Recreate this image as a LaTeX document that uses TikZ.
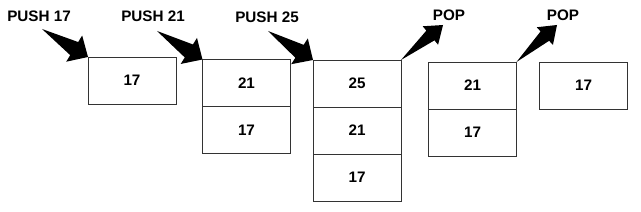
\documentclass[tikz,border=0pt]{standalone}
\usepackage{fontspec}
\setmainfont{Liberation Sans}
\usetikzlibrary{positioning,calc}

% filled tapering arrow: tail, tip, shaft half width, head half width
\newcommand{\fatarrow}[4]{%
  \fill[black] (#1) -- ($(#1)!0.7!(#2)!#3!90:(#2)$) -- ($(#1)!0.7!(#2)!#4!90:(#2)$) -- (#2)
    -- ($(#1)!0.7!(#2)!#4!-90:(#2)$) -- ($(#1)!0.7!(#2)!#3!-90:(#2)$) -- cycle;}

\begin{document}
\begin{tikzpicture}[
      x=0.3mm, y=-0.3mm,
      cell/.style={draw=black!80, line width=0.7pt, minimum width=26.4mm, minimum height=14.1mm,
        inner sep=0pt, outer sep=0pt, font=\bfseries\fontsize{13}{15}\selectfont},
      lbl/.style={font=\bfseries\fontsize{13}{15}\selectfont}
    ]
    \useasboundingbox (0,0) rectangle (641,212);
    % stacks
    \node[cell] (a1) at (132,80.5) {17};
    \node[cell] (b1) at (246.5,83) {21};
    \node[cell, below=0pt of b1] (b2) {17};
    \node[cell] (c1) at (357,83.5) {25};
    \node[cell, below=0pt of c1] (c2) {21};
    \node[cell, below=0pt of c2] (c3) {17};
    \node[cell] (d1) at (472.5,85.5) {21};
    \node[cell, below=0pt of d1] (d2) {17};
    \node[cell] (e1) at (583.5,85.5) {17};
    % operations
    \node[lbl] (push17) at (39,16) {PUSH 17};
    \node[lbl] (push21) at (153,16) {PUSH 21};
    \node[lbl] (push25) at (267,17) {PUSH 25};
    \node[lbl] (pop1) at (449,15) {POP};
    \node[lbl] (pop2) at (563,15) {POP};
    \coordinate (t17) at (42,29);
    \coordinate (t21) at (157,31);
    \coordinate (t25) at (268,31);
    \coordinate (p1) at (443,25);
    \coordinate (p2) at (557,25);
    \fatarrow{t17}{a1.north west}{2.3mm}{4.6mm}
    \fatarrow{t21}{b1.north west}{2.3mm}{4.6mm}
    \fatarrow{t25}{c1.north west}{2.3mm}{4.6mm}
    \fatarrow{c1.north east}{p1}{1.9mm}{3.6mm}
    \fatarrow{d1.north east}{p2}{1.9mm}{3.6mm}
  \end{tikzpicture}
\end{document}
